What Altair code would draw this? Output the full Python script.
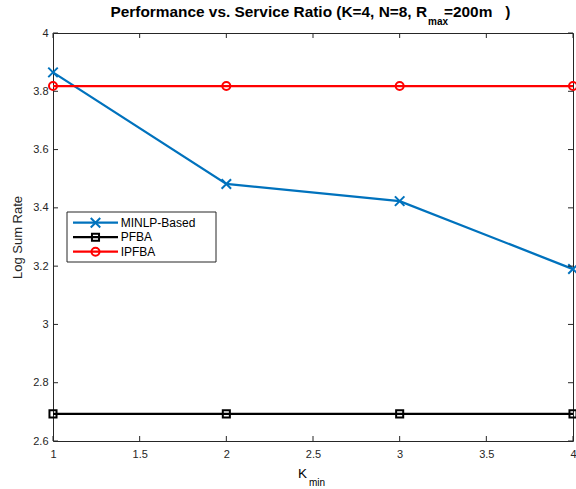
import altair as alt
import pandas as pd

# ---- data ----
kmin = [1, 2, 3, 4]
minlp_based = [3.865, 3.482, 3.423, 3.19]
pfba = [2.693, 2.693, 2.693, 2.693]
ipfba = [3.818, 3.818, 3.818, 3.818]
series_names = ["MINLP-Based", "PFBA", "IPFBA"]
series_colors = ["#0072BD", "#000000", "#FF0000"]
x_ticks = [1, 1.5, 2, 2.5, 3, 3.5, 4]
y_ticks = [2.6, 2.8, 3.0, 3.2, 3.4, 3.6, 3.8, 4.0]

W, H = 520, 408
FONT = "Liberation Sans"
AX = "#262626"

rows = []
for name, vals in zip(series_names, [minlp_based, pfba, ipfba]):
    for k, v in zip(kmin, vals):
        rows.append({"series": name, "kmin": k, "value": v})
df = pd.DataFrame(rows)

xscale = alt.Scale(domain=[1, 4], nice=False, zero=False)
yscale = alt.Scale(domain=[2.6, 4.0], nice=False, zero=False)
cscale = alt.Scale(domain=series_names, range=series_colors)

xaxis = alt.Axis(values=x_ticks, format="~g", domain=False, ticks=False, tickSize=0,
                 grid=False, labelFontSize=11, labelColor=AX, labelFont=FONT,
                 labelPadding=7, title=None, labelFlush=False)
yaxis = alt.Axis(values=y_ticks, format="~g", domain=False, ticks=False, tickSize=0,
                 grid=False, labelFontSize=11, labelColor=AX, labelFont=FONT,
                 labelPadding=5, title="Log Sum Rate", titleFontSize=13,
                 titleFontWeight="normal", titleColor=AX, titleFont=FONT,
                 titlePadding=8, labelFlush=False)

base = alt.Chart(df)

lines = base.mark_line(strokeWidth=2.3).encode(
    x=alt.X("kmin:Q", scale=xscale, axis=xaxis),
    y=alt.Y("value:Q", scale=yscale, axis=yaxis),
    color=alt.Color("series:N", scale=cscale, legend=None),
    detail="series:N",
)

shapes = {
    "MINLP-Based": ("M-1,-1L1,1M-1,1L1,-1", 90),
    "PFBA": ("square", 50),
    "IPFBA": ("circle", 64),
}

layers = [lines]
for name, col in zip(series_names, series_colors):
    shp, sz = shapes[name]
    layers.append(
        base.transform_filter(alt.datum.series == name).mark_point(
            shape=shp, size=sz, filled=False, strokeWidth=2, color=col, opacity=1
        ).encode(x=alt.X("kmin:Q", scale=xscale), y=alt.Y("value:Q", scale=yscale))
    )

# inward ticks on all four sides
xt = alt.Chart(pd.DataFrame({"t": x_ticks}))
yt = alt.Chart(pd.DataFrame({"t": y_ticks}))
tick_style = dict(color=AX, strokeWidth=1)
layers += [
    xt.mark_rule(**tick_style).encode(x=alt.X("t:Q", scale=xscale), y=alt.value(H), y2=alt.value(H - 5)),
    xt.mark_rule(**tick_style).encode(x=alt.X("t:Q", scale=xscale), y=alt.value(0), y2=alt.value(5)),
    yt.mark_rule(**tick_style).encode(y=alt.Y("t:Q", scale=yscale), x=alt.value(0), x2=alt.value(5)),
    yt.mark_rule(**tick_style).encode(y=alt.Y("t:Q", scale=yscale), x=alt.value(W), x2=alt.value(W - 5)),
]

def text_layer(txt, x, y, size, weight="normal", align="left", baseline="alphabetic"):
    return alt.Chart(pd.DataFrame({"t": [txt]})).mark_text(
        font=FONT, fontSize=size, fontWeight=weight, align=align, baseline=baseline, color="#000000"
    ).encode(text="t:N", x=alt.value(x), y=alt.value(y))

# title with subscript
layers += [
    text_layer("Performance vs. Service Ratio (K=4, N=8, R", 374, -16, 15.4, "bold", "right"),
    text_layer("max", 375, -8, 10, "bold"),
    text_layer("=200m\u00a0\u00a0\u00a0)", 391, -16, 15.4, "bold"),
]
# x-axis title with subscript
layers += [
    text_layer("K", 245, 445, 13.5, "normal"),
    text_layer("min", 256, 453, 10, "normal"),
]

# legend box
LX, LY, LW, LH = 14, 179, 149, 50
layers.append(
    alt.Chart(pd.DataFrame({"a": [0]})).mark_rect(fill="white", stroke=AX, strokeWidth=1).encode(
        x=alt.value(LX), x2=alt.value(LX + LW), y=alt.value(LY), y2=alt.value(LY + LH)
    )
)
for i, (name, col) in enumerate(zip(series_names, series_colors)):
    ry = 189.7 + 14.5 * i
    shp, sz = shapes[name]
    one = alt.Chart(pd.DataFrame({"t": [name]}))
    layers += [
        one.mark_rule(color=col, strokeWidth=2.3).encode(x=alt.value(20), x2=alt.value(65), y=alt.value(ry)),
        one.mark_point(shape=shp, size=sz, filled=False, strokeWidth=2, color=col, opacity=1).encode(
            x=alt.value(42.5), y=alt.value(ry)),
        one.mark_text(font=FONT, fontSize=12, align="left", baseline="middle", color="#000000").encode(
            text="t:N", x=alt.value(67.7), y=alt.value(ry)),
    ]

chart = alt.layer(*layers).properties(
    width=W, height=H,
    autosize=alt.AutoSizeParams(type="none"),
    padding={"left": 53, "top": 33, "right": 3, "bottom": 48},
    background="white",
).configure_view(stroke=AX, strokeWidth=1)

chart.save("out.html", embed_options={"renderer": "svg", "actions": False})
